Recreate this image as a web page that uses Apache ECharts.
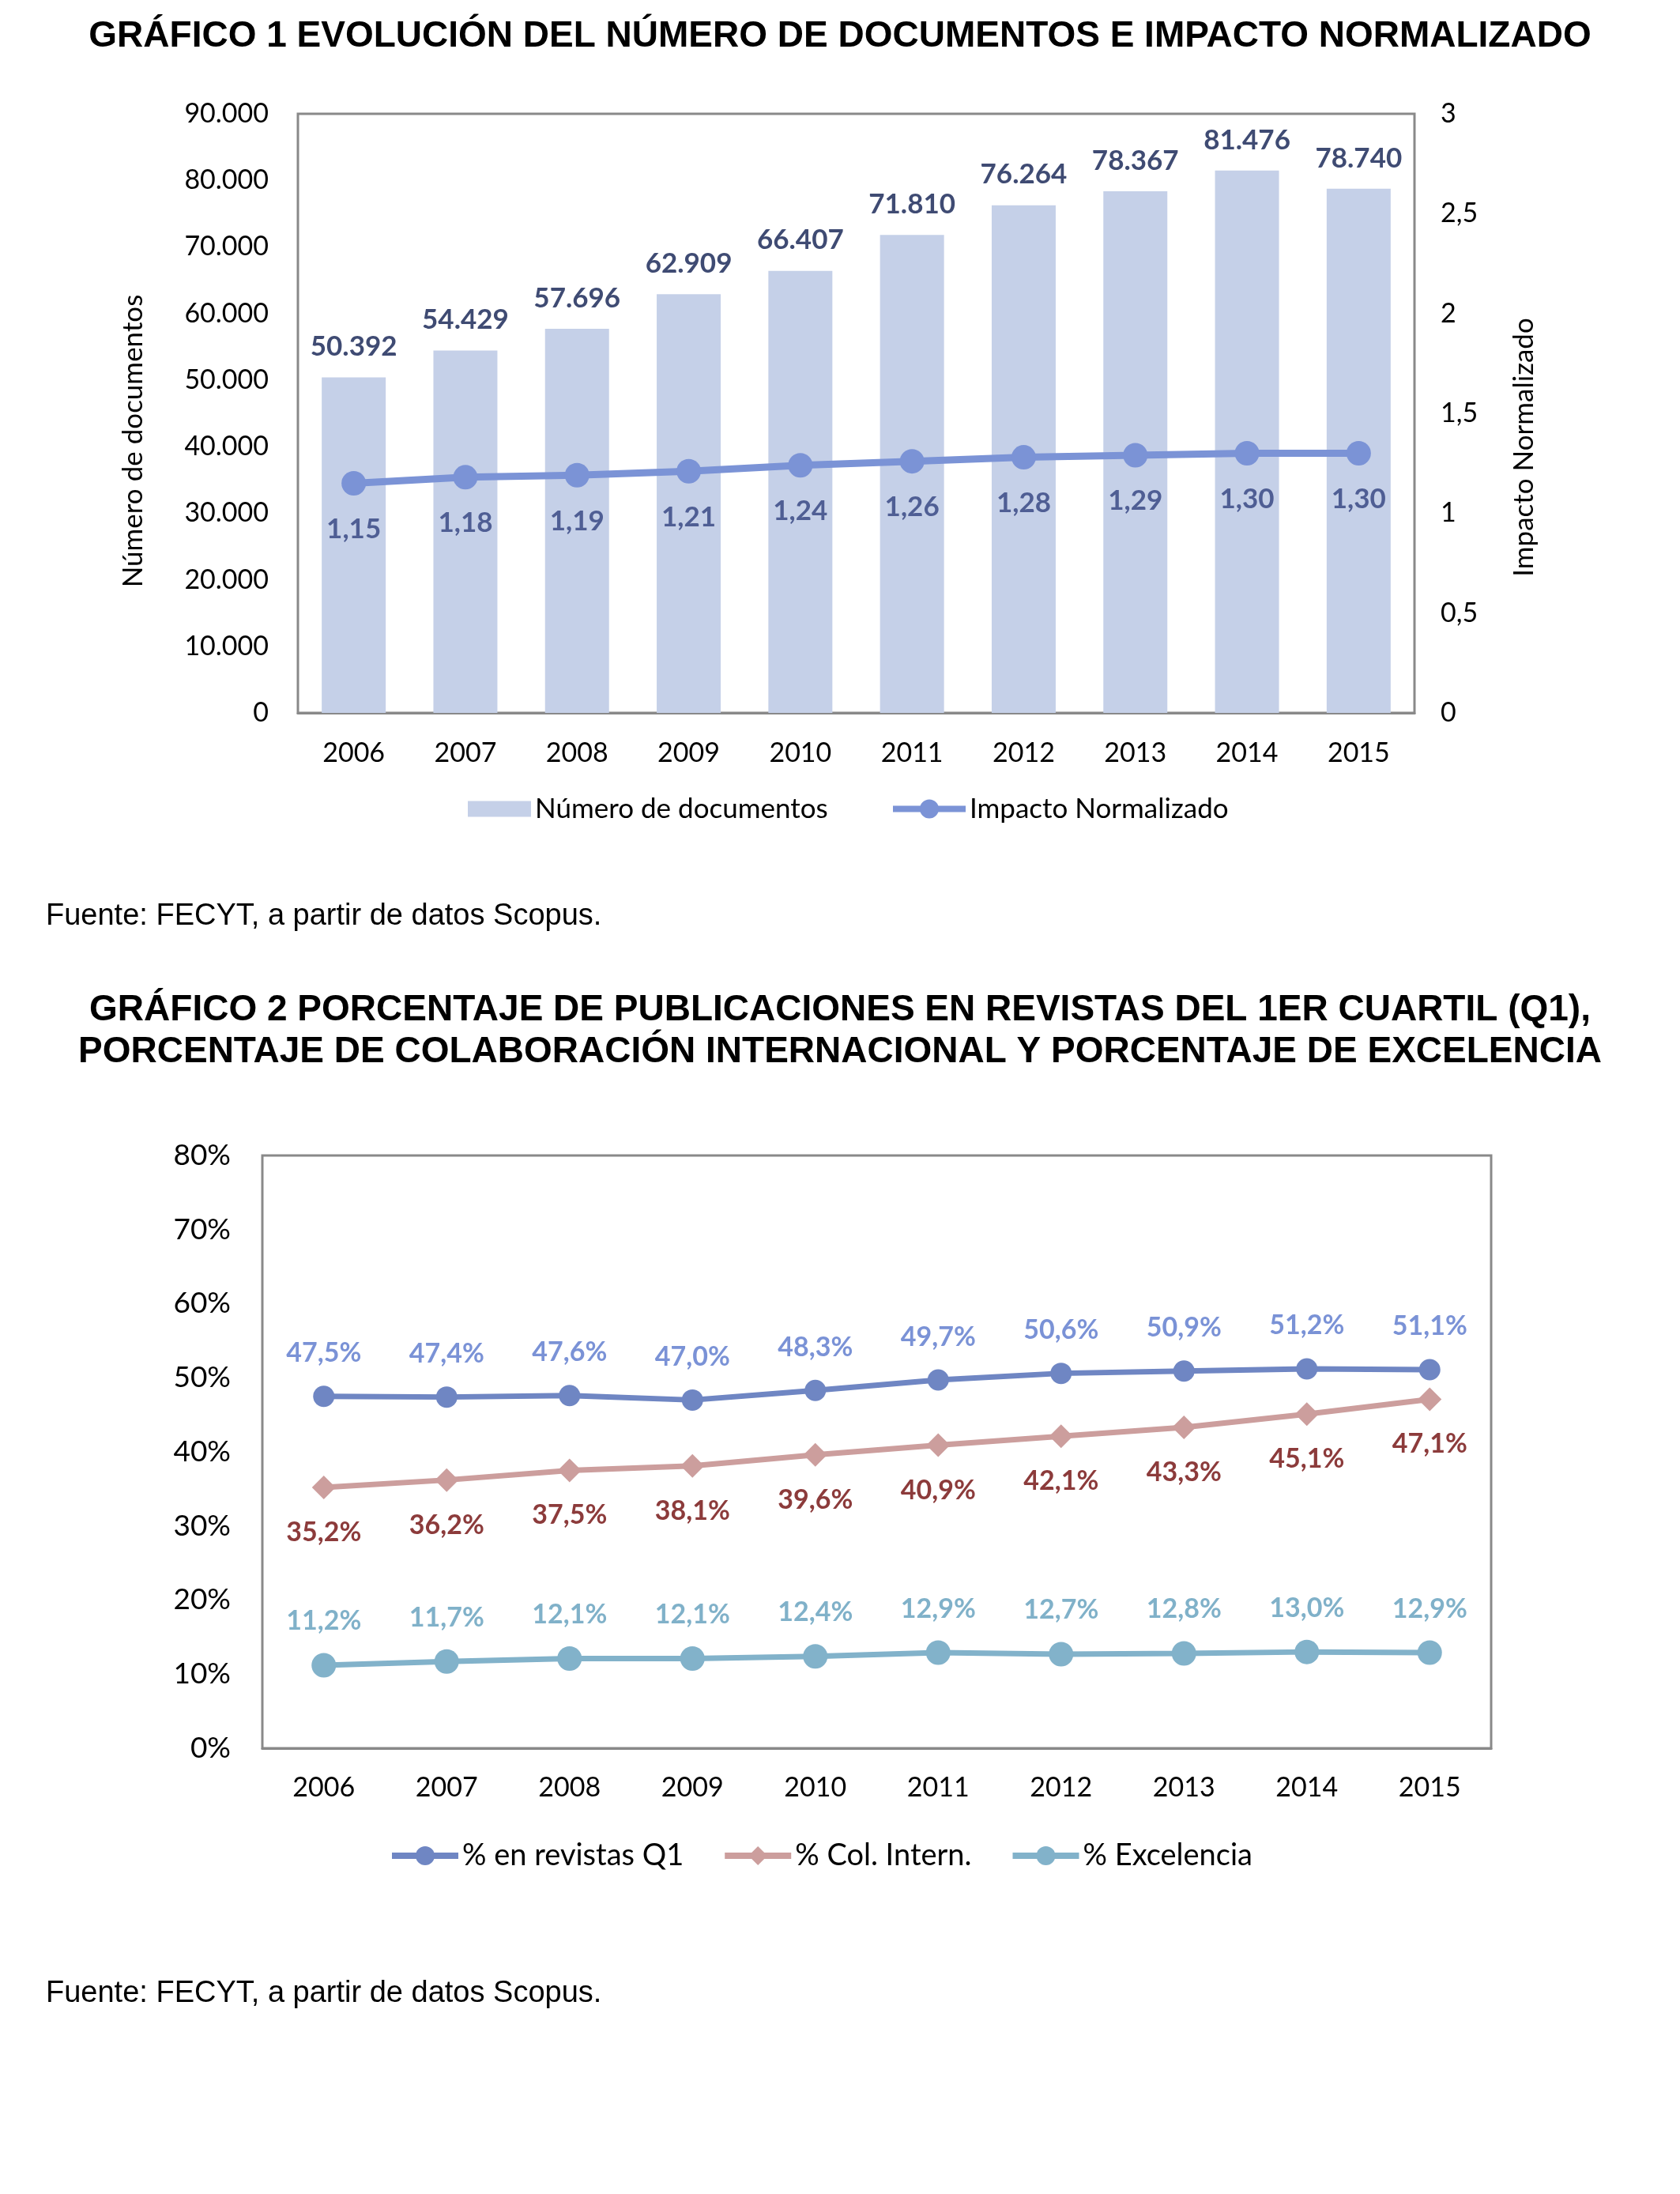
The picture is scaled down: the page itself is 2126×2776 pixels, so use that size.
<!DOCTYPE html>
<html>
<head>
<meta charset="utf-8">
<script src="https://cdn.jsdelivr.net/npm/echarts@6/dist/echarts.min.js"></script>
<style>
html,body{margin:0;padding:0;background:#fff;}
#c{width:2126px;height:2776px;}
</style>
</head>
<body>
<div id="c"></div>
<script>
// ---- data ----
const years = ['2006','2007','2008','2009','2010','2011','2012','2013','2014','2015'];
const documentos = [50392, 54429, 57696, 62909, 66407, 71810, 76264, 78367, 81476, 78740];
const impacto = [1.15, 1.18, 1.19, 1.21, 1.24, 1.26, 1.28, 1.29, 1.30, 1.30];
const q1 = [47.5, 47.4, 47.6, 47.0, 48.3, 49.7, 50.6, 50.9, 51.2, 51.1];
const colIntern = [35.2, 36.2, 37.5, 38.1, 39.6, 40.9, 42.1, 43.3, 45.1, 47.1];
const excelencia = [11.2, 11.7, 12.1, 12.1, 12.4, 12.9, 12.7, 12.8, 13.0, 12.9];

const title1 = 'GRÁFICO 1 EVOLUCIÓN DEL NÚMERO DE DOCUMENTOS E IMPACTO NORMALIZADO';
const title2 = 'GRÁFICO 2 PORCENTAJE DE PUBLICACIONES EN REVISTAS DEL 1ER CUARTIL (Q1),\nPORCENTAJE DE COLABORACIÓN INTERNACIONAL Y PORCENTAJE DE EXCELENCIA';
const fuente = 'Fuente: FECYT, a partir de datos Scopus.';

// ---- helpers ----
const thousands = v => String(v).replace(/\B(?=(\d{3})+(?!\d))/g, '.');
const dec = (v, n) => v.toFixed(n).replace('.', ',');
const FONT = 'Lato';
const AX = { fontFamily: FONT, fontSize: 34, color: '#000' };

const chart = echarts.init(document.getElementById('c'), null, { renderer: 'canvas', width: 2126, height: 2776 });

const option = {
  animation: false,
  backgroundColor: '#fff',
  graphic: [
    { type: 'text', x: 1063, y: 46, style: { text: title1, textAlign: 'center', textVerticalAlign: 'middle', font: 'bold 46px "Liberation Sans"', fill: '#000' } },
    { type: 'text', x: 1063, y: 1305, style: { text: title2, textAlign: 'center', textVerticalAlign: 'middle', font: 'bold 46px "Liberation Sans"', lineHeight: 53, fill: '#000' } },
    { type: 'text', x: 58, y: 1160, style: { text: fuente, textAlign: 'left', textVerticalAlign: 'middle', font: '38px "Liberation Sans"', fill: '#000' } },
    { type: 'text', x: 58, y: 2523, style: { text: fuente, textAlign: 'left', textVerticalAlign: 'middle', font: '38px "Liberation Sans"', fill: '#000' } }
  ],
  grid: [
    { left: 377, top: 144, width: 1413, height: 758, show: true, borderColor: '#898989', borderWidth: 3, backgroundColor: 'transparent', containLabel: false, outerBoundsMode: 'none' },
    { left: 332, top: 1462, width: 1555, height: 750, show: true, borderColor: '#898989', borderWidth: 3, backgroundColor: 'transparent', containLabel: false, outerBoundsMode: 'none' }
  ],
  legend: [
    { data: ['Número de documentos'], left: 592, top: 1006, padding: 0, itemWidth: 80, itemHeight: 20, icon: 'rect', textStyle: { fontFamily: FONT, fontSize: 35, color: '#000' } },
    { data: ['Impacto Normalizado'], left: 1126, top: 1006, padding: 0, itemWidth: 92, itemHeight: 30, lineStyle: { width: 8 }, textStyle: { fontFamily: FONT, fontSize: 35, color: '#000' } },
    { data: ['% en revistas Q1', '% Col. Intern.', '% Excelencia'], left: 492, top: 2329, padding: 0, itemGap: 48, itemWidth: 84, itemHeight: 30, lineStyle: { width: 8 }, textStyle: { fontFamily: FONT, fontSize: 38, color: '#000' } }
  ],
  xAxis: [
    { type: 'category', gridIndex: 0, data: years, axisTick: { show: false }, axisLine: { show: true, lineStyle: { color: '#898989', width: 3 } }, axisLabel: Object.assign({ margin: 34 }, AX), splitLine: { show: false } },
    { type: 'category', gridIndex: 1, data: years, axisTick: { show: false }, axisLine: { show: true, lineStyle: { color: '#898989', width: 3 } }, axisLabel: Object.assign({ margin: 33 }, AX), splitLine: { show: false } }
  ],
  yAxis: [
    { type: 'value', gridIndex: 0, position: 'left', min: 0, max: 90000, interval: 10000,
      axisLine: { show: false }, axisTick: { show: false }, splitLine: { show: false },
      axisLabel: Object.assign({ margin: 37, formatter: v => thousands(v) }, AX),
      name: 'Número de documentos', nameLocation: 'middle', nameRotate: 90, nameGap: 191,
      nameTextStyle: { fontFamily: FONT, fontSize: 35, color: '#000', padding: [0, 70, 0, 0] } },
    { type: 'value', gridIndex: 0, position: 'right', min: 0, max: 3, interval: 0.5,
      axisLine: { show: false }, axisTick: { show: false }, splitLine: { show: false },
      axisLabel: Object.assign({ margin: 33, formatter: v => String(v).replace('.', ',') }, AX),
      name: 'Impacto Normalizado', nameLocation: 'middle', nameRotate: 90, nameGap: 121,
      nameTextStyle: { fontFamily: FONT, fontSize: 35, color: '#000', padding: [0, 86, 0, 0] } },
    { type: 'value', gridIndex: 1, min: 0, max: 80, interval: 10,
      axisLine: { show: false }, axisTick: { show: false }, splitLine: { show: false },
      axisLabel: { margin: 40, fontFamily: FONT, fontSize: 37, color: '#000', formatter: v => v + '%' } }
  ],
  series: [
    { type: 'bar', name: 'Número de documentos', xAxisIndex: 0, yAxisIndex: 0, data: documentos, barWidth: 81,
      itemStyle: { color: '#C5D0E8' }, z: 2,
      label: { show: true, position: 'top', distance: 21, fontFamily: FONT, fontWeight: 'bold', fontSize: 35, color: '#3F4B73', formatter: p => thousands(p.value) } },
    { type: 'line', name: 'Impacto Normalizado', xAxisIndex: 0, yAxisIndex: 1, data: impacto, symbol: 'circle', symbolSize: 31,
      lineStyle: { width: 9, color: '#7B93D6' }, itemStyle: { color: '#7B93D6' }, z: 3,
      label: { show: true, position: 'bottom', distance: 25, fontFamily: FONT, fontWeight: 'bold', fontSize: 35, color: '#4F5E94', formatter: p => dec(p.value, 2) } },
    { type: 'line', name: '% en revistas Q1', xAxisIndex: 1, yAxisIndex: 2, data: q1, symbol: 'circle', symbolSize: 27,
      lineStyle: { width: 7, color: '#6F86C3' }, itemStyle: { color: '#6F86C3' },
      label: { show: true, position: 'top', distance: 24, fontFamily: FONT, fontWeight: 'bold', fontSize: 34, color: '#7A92D6', formatter: p => dec(p.value, 1) + '%' } },
    { type: 'line', name: '% Col. Intern.', xAxisIndex: 1, yAxisIndex: 2, data: colIntern, symbol: 'diamond', symbolSize: 30,
      lineStyle: { width: 7, color: '#CC9E9D' }, itemStyle: { color: '#CC9E9D' },
      label: { show: true, position: 'bottom', distance: 25, fontFamily: FONT, fontWeight: 'bold', fontSize: 34, color: '#8C3B3B', formatter: p => dec(p.value, 1) + '%' } },
    { type: 'line', name: '% Excelencia', xAxisIndex: 1, yAxisIndex: 2, data: excelencia, symbol: 'circle', symbolSize: 31,
      lineStyle: { width: 7, color: '#82B2CA' }, itemStyle: { color: '#82B2CA' },
      label: { show: true, position: 'top', distance: 23, fontFamily: FONT, fontWeight: 'bold', fontSize: 34, color: '#80B1C9', formatter: p => dec(p.value, 1) + '%' } }
  ]
};
chart.setOption(option);
</script>
</body>
</html>
